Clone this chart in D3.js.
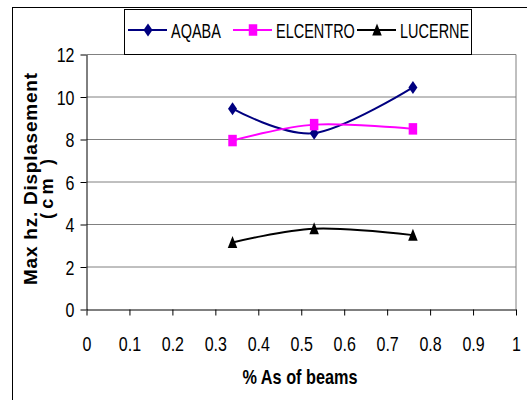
<!DOCTYPE html>
<html>
<head>
<meta charset="utf-8">
<script src="https://cdn.jsdelivr.net/npm/d3@7"></script>
<style>
  html, body { margin: 0; padding: 0; background: #fff; overflow: hidden; }
  svg { display: block; }
</style>
</head>
<body>
<svg id="chart" width="527" height="400"></svg>
<script>
// Reinforcement ratio of the beams (x) and peak horizontal displacement (cm)
const steelRatio = [0.34, 0.53, 0.76];
const aqaba      = [9.45, 8.3, 10.45];
const elcentro   = [7.95, 8.7, 8.5];
const lucerne    = [3.15, 3.8, 3.5];

const seriesNames  = ["AQABA", "ELCENTRO", "LUCERNE"];
const seriesColors = ["#000080", "#FF00FF", "#000000"];
const seriesShapes = ["diamond", "square", "triangle"];

const xTicks = [0, 0.1, 0.2, 0.3, 0.4, 0.5, 0.6, 0.7, 0.8, 0.9, 1];
const yTicks = [0, 2, 4, 6, 8, 10, 12];

const xTitle = "% As of beams";
const yTitleLines = ["Max hz. Displasement", "(cm )"];

const seriesValues = [aqaba, elcentro, lucerne];
const series = seriesNames.map((name, i) => ({
  name,
  color: seriesColors[i],
  shape: seriesShapes[i],
  points: steelRatio.map((x, j) => ({ x, y: seriesValues[i][j] }))
}));

const svg = d3.select("#chart");
const sans = "'Liberation Sans', Arial, sans-serif";
const squeeze = 0.8;   // condensed look of the chart's labels

const plot = { left: 86.5, right: 516, top: 54.5, bottom: 309.5 };

const x = d3.scaleLinear().domain([0, 1]).range([plot.left, plot.right]);
const y = d3.scaleLinear().domain([0, 12]).range([plot.bottom, plot.top]);

// outer frame of the chart object
svg.append("rect")
  .attr("x", 12.5).attr("y", 7.5)
  .attr("width", 700).attr("height", 600)
  .attr("fill", "#fff").attr("stroke", "#000").attr("stroke-width", 1);

// horizontal gridlines
svg.append("g")
  .selectAll("line")
  .data(yTicks.filter(d => d > 0))
  .join("line")
  .attr("x1", plot.left).attr("x2", plot.right)
  .attr("y1", d => y(d)).attr("y2", d => y(d))
  .attr("stroke", "#808080").attr("stroke-width", 1);

// right border of plot area
svg.append("line")
  .attr("x1", plot.right).attr("x2", plot.right)
  .attr("y1", plot.top).attr("y2", plot.bottom)
  .attr("stroke", "#808080").attr("stroke-width", 1);

// y axis
const yAxis = svg.append("g")
  .attr("transform", `translate(${plot.left},0)`)
  .call(d3.axisLeft(y).tickValues(yTicks).tickSize(6).tickSizeOuter(0).tickFormat(d3.format("~g")));
yAxis.select(".domain").attr("stroke", "#000");
yAxis.selectAll(".tick line").attr("stroke", "#000");
yAxis.selectAll(".tick text")
  .attr("font-family", sans).attr("font-size", 20).attr("fill", "#000")
  .attr("x", -12 / squeeze).attr("dy", "0.35em")
  .attr("transform", `scale(${squeeze},1)`);

// x axis
const xAxis = svg.append("g")
  .attr("transform", `translate(0,${plot.bottom})`)
  .call(d3.axisBottom(x).tickValues(xTicks).tickSize(6).tickSizeOuter(0).tickFormat(d3.format("~g")));
xAxis.select(".domain").attr("stroke", "#000");
xAxis.selectAll(".tick line").attr("stroke", "#000");
xAxis.selectAll(".tick text")
  .attr("font-family", sans).attr("font-size", 20).attr("fill", "#000")
  .attr("y", 41.5).attr("dy", 0)
  .attr("transform", `scale(${squeeze},1)`);

// smoothed series lines
const line = d3.line()
  .x(d => x(d.x))
  .y(d => y(d.y))
  .curve(d3.curveCardinal.tension(0));

const symbolPath = {
  diamond:  "M0,-6.5L4.5,0L0,6.5L-4.5,0Z",
  square:   "M-4.25,-5.75H4.25V5.75H-4.25Z",
  triangle: "M0,-6.5L4.75,5.5H-4.75Z"
};

const g = svg.append("g").selectAll("g").data(series).join("g");
g.append("path")
  .attr("d", d => line(d.points))
  .attr("fill", "none")
  .attr("stroke", d => d.color)
  .attr("stroke-width", 2);
g.each(function (s) {
  d3.select(this).selectAll("path.mark")
    .data(s.points)
    .join("path")
    .attr("class", "mark")
    .attr("d", symbolPath[s.shape])
    .attr("transform", d => `translate(${x(d.x)},${y(d.y)})`)
    .attr("fill", s.color);
});

// legend
const legend = svg.append("g");
legend.append("rect")
  .attr("x", 124.5).attr("y", 9.5)
  .attr("width", 347).attr("height", 45)
  .attr("fill", "#fff").attr("stroke", "#000").attr("stroke-width", 1);

const legendItemX = [128, 233, 357];
const ly = 30;
series.forEach((s, i) => {
  const lx = legendItemX[i];
  const item = legend.append("g");
  item.append("line")
    .attr("x1", lx).attr("x2", lx + 39)
    .attr("y1", ly).attr("y2", ly)
    .attr("stroke", s.color).attr("stroke-width", 2);
  item.append("path")
    .attr("d", symbolPath[s.shape])
    .attr("transform", `translate(${lx + 20},${ly})`)
    .attr("fill", s.color);
  item.append("text")
    .attr("font-family", sans).attr("font-size", 21).attr("fill", "#000")
    .attr("transform", `translate(${lx + 43},${ly + 7.5}) scale(0.69,1)`)
    .text(s.name);
});

// axis titles
svg.append("text")
  .attr("x", 300).attr("y", 383.5)
  .attr("text-anchor", "middle")
  .attr("font-family", sans).attr("font-weight", "bold").attr("font-size", 21)
  .attr("textLength", 115).attr("lengthAdjust", "spacingAndGlyphs")
  .text(xTitle);

svg.append("text")
  .attr("transform", "translate(37,179) rotate(-90)")
  .attr("text-anchor", "middle")
  .attr("font-family", sans).attr("font-weight", "bold").attr("font-size", 19)
  .attr("textLength", 212).attr("lengthAdjust", "spacing")
  .text(yTitleLines[0]);

svg.append("text")
  .attr("transform", "translate(53,189) rotate(-90)")
  .attr("text-anchor", "middle")
  .attr("font-family", sans).attr("font-weight", "bold").attr("font-size", 18)
  .attr("textLength", 60).attr("lengthAdjust", "spacing")
  .text(yTitleLines[1]);
</script>
</body>
</html>
